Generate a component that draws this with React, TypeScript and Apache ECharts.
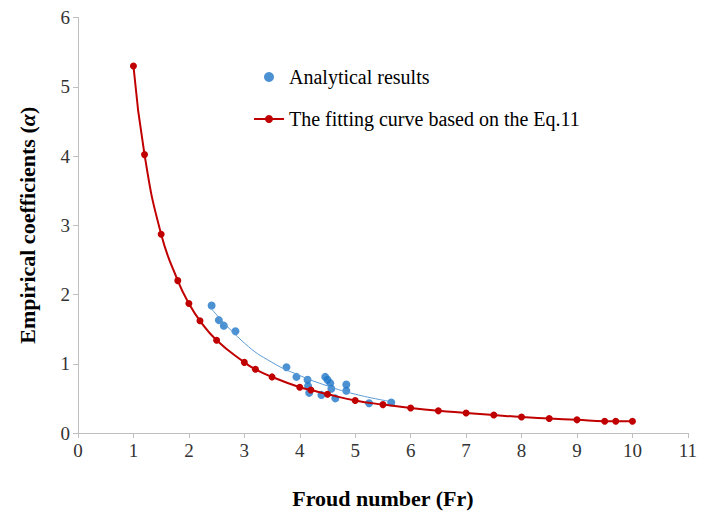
import React, { useEffect, useRef } from 'react';
import * as echarts from 'echarts';

const fitX = [1, 1.2, 1.5, 1.8, 2, 2.2, 2.5, 3, 3.2, 3.5, 4, 4.2, 4.5, 5, 5.5, 6, 6.5, 7, 7.5, 8, 8.5, 9, 9.5, 9.7, 10];
const fitY = [5.3, 4.02, 2.87, 2.2, 1.87, 1.62, 1.34, 1.02, 0.92, 0.81, 0.66, 0.62, 0.56, 0.47, 0.41, 0.36, 0.32, 0.29, 0.26, 0.23, 0.21, 0.19, 0.17, 0.17, 0.17];

const resultX = [2.41, 2.54, 2.63, 2.84, 3.76, 3.94, 4.14, 4.15, 4.17, 4.39, 4.46, 4.5, 4.55, 4.57, 4.64, 4.84, 4.84, 5.25, 5.65];
const resultY = [1.84, 1.63, 1.55, 1.47, 0.95, 0.81, 0.77, 0.68, 0.58, 0.55, 0.81, 0.77, 0.72, 0.64, 0.5, 0.7, 0.61, 0.43, 0.44];

const trendX = [2.4, 3, 3.5, 4, 4.5, 5, 5.6];
const trendY = [1.8, 1.3, 1.02, 0.83, 0.68, 0.56, 0.46];

const font = '"Liberation Serif", "Times New Roman", serif';

const App: React.FC = () => {
  const ref = useRef<HTMLDivElement>(null);

  useEffect(() => {
    if (!ref.current) return;
    const chart = echarts.init(ref.current, undefined, { renderer: 'svg' });
    chart.setOption({
      animation: false,
      textStyle: { fontFamily: font },
      grid: { left: 70, right: 11, top: 7, bottom: 76 },
      legend: {
        orient: 'vertical',
        left: 240,
        top: 54,
        itemGap: 22,
        itemWidth: 30,
        itemHeight: 10,
        textStyle: { fontFamily: font, fontSize: 20, color: '#000' },
        data: [
          { name: 'Analytical results', icon: 'circle', itemStyle: { color: '#1f77c8' } },
          { name: 'The fitting curve based on the Eq.11' },
        ],
      },
      xAxis: {
        type: 'value', min: 0, max: 11, interval: 1,
        name: 'Froud number (Fr)', nameLocation: 'middle', nameGap: 54,
        nameTextStyle: { fontFamily: font, fontSize: 22, fontWeight: 'bold', color: '#000' },
        axisLine: { lineStyle: { color: '#bfbfbf' } },
        axisTick: { show: true, lineStyle: { color: '#bfbfbf' } },
        axisLabel: { fontFamily: font, fontSize: 19, color: '#333' },
        splitLine: { show: false },
      },
      yAxis: {
        type: 'value', min: 0, max: 6, interval: 1,
        name: '{b|Empirical coefficients (}{i|α}{b|)}', nameLocation: 'middle', nameGap: 40,
        nameTextStyle: {
          rich: {
            b: { fontFamily: font, fontSize: 22, fontWeight: 'bold', color: '#000' },
            i: { fontFamily: font, fontSize: 22, fontWeight: 'bold', fontStyle: 'italic', color: '#000' },
          },
        },
        axisLine: { show: true, lineStyle: { color: '#bfbfbf' } },
        axisTick: { show: true, lineStyle: { color: '#bfbfbf' } },
        axisLabel: { fontFamily: font, fontSize: 19, color: '#333' },
        splitLine: { show: false },
      },
      series: [
        {
          name: 'trend', type: 'line', smooth: true, symbol: 'none',
          lineStyle: { color: '#5b9bd5', width: 1 },
          data: trendX.map((x, i) => [x, trendY[i]]),
        },
        {
          name: 'The fitting curve based on the Eq.11', type: 'line', smooth: true,
          symbol: 'circle', symbolSize: 7,
          itemStyle: { color: '#c00000' }, lineStyle: { color: '#c00000', width: 2 },
          data: fitX.map((x, i) => [x, fitY[i]]),
        },
        {
          name: 'Analytical results', type: 'scatter', symbolSize: 8,
          itemStyle: { color: '#1f77c8' },
          data: resultX.map((x, i) => [x, resultY[i]]),
        },
      ],
    });
    return () => chart.dispose();
  }, []);

  return <div ref={ref} style={{ width: 692, height: 506 }} />;
};

export default App;
